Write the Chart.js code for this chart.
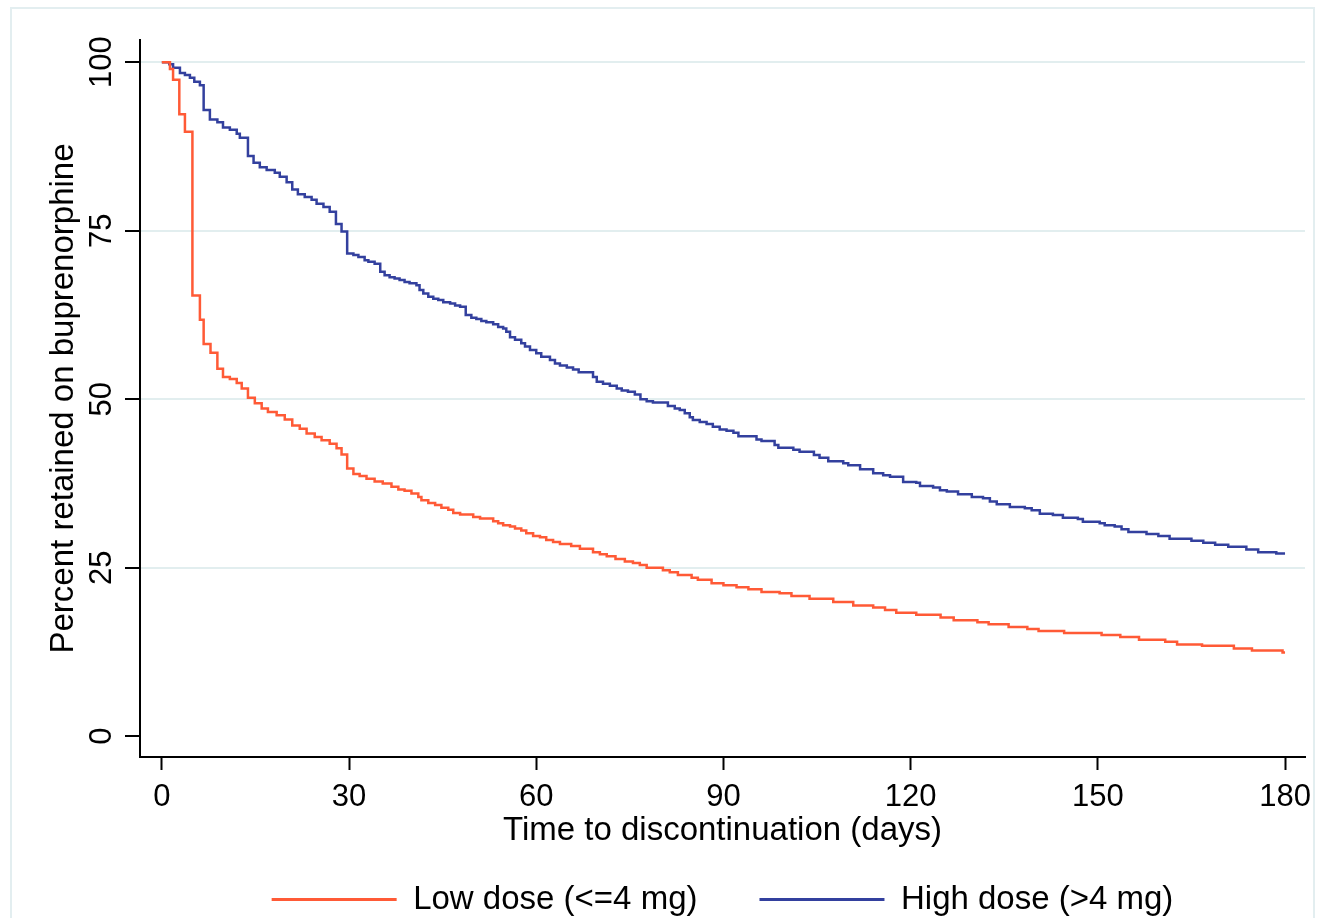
<!DOCTYPE html>
<html lang="en">
<head>
  <meta charset="UTF-8" />
  <title>Retention on buprenorphine by dose</title>
  <script src="https://cdn.jsdelivr.net/npm/chart.js"></script>
  <style>
    html, body { margin: 0; padding: 0; background: #fff; overflow: hidden; }
    #wrap { position: relative; width: 1317px; height: 918px; overflow: hidden; }
    #frame { position: absolute; left: 10px; top: 7px; width: 1301px; height: 1000px; border: 2px solid #e3eef0; }
    #km { position: absolute; left: 0; top: 0; }
  </style>
</head>
<body>
  <div id="wrap">
    <div id="frame"></div>
    <canvas id="km" width="1317" height="930"></canvas>
  </div>

  <script>
    // Kaplan-Meier steps (day of the drop, percent retained after it)
    const lowDays = [0, 1.3, 1.8, 2.8, 3.7, 4.9, 6.1, 6.7, 7.8, 8.9, 9.8, 10.9, 12.0, 12.8, 13.8, 14.9, 16.0, 17.0, 18.4, 19.7,
      20.9, 22.1, 23.2, 24.5, 25.6, 26.9, 28.0, 28.8, 29.7, 30.7, 31.7, 32.8, 34.1, 35.4, 36.8, 37.9, 38.9, 40.0, 41.1, 41.6,
      42.7, 43.8, 44.8, 45.9, 46.7, 47.8, 49.9, 51.0, 53.1, 53.9, 54.7, 55.8, 56.6, 57.6, 58.4, 59.5, 60.6, 61.6, 62.7, 63.8,
      65.6, 67.0, 69.1, 70.2, 71.3, 72.7, 74.2, 75.5, 76.6, 77.7, 80.3, 81.4, 82.7, 84.9, 85.9, 88.1, 90.0, 92.1, 94.0, 96.1,
      99.0, 100.9, 103.8, 107.6, 110.8, 114.0, 115.9, 117.7, 120.9, 124.8, 126.9, 130.7, 132.5, 135.7, 138.7, 140.5, 144.6, 150.6, 153.6, 156.6,
      160.8, 162.7, 166.7, 171.8, 174.7, 179.6, 180];
    const lowPct = [100, 99.0, 97.4, 92.3, 89.7, 65.4, 61.8, 58.2, 56.9, 54.5, 53.3, 53.0, 52.4, 51.6, 50.2, 49.4, 48.6, 48.1, 47.6, 47.0,
      46.1, 45.6, 44.9, 44.4, 43.9, 43.4, 42.7, 41.8, 39.7, 38.9, 38.6, 38.2, 37.8, 37.5, 37.0, 36.6, 36.4, 36.0, 35.5, 35.0,
      34.6, 34.3, 33.9, 33.6, 33.1, 32.9, 32.5, 32.3, 31.9, 31.6, 31.3, 31.1, 30.8, 30.5, 30.1, 29.7, 29.5, 29.1, 28.8, 28.5,
      28.2, 27.8, 27.3, 27.0, 26.7, 26.3, 25.9, 25.7, 25.4, 25.0, 24.6, 24.3, 23.9, 23.5, 23.2, 22.7, 22.4, 22.1, 21.8, 21.4,
      21.2, 20.8, 20.4, 19.9, 19.4, 19.1, 18.7, 18.3, 18.0, 17.6, 17.2, 16.9, 16.6, 16.2, 15.9, 15.6, 15.3, 15.0, 14.7, 14.3,
      14.0, 13.6, 13.4, 13.0, 12.7, 12.4, 12.4];

    const highDays = [0, 1.2, 1.8, 2.9, 3.7, 4.5, 5.2, 6.1, 6.7, 7.7, 8.9, 9.8, 10.9, 12.0, 12.5, 13.8, 14.7, 15.7, 16.8, 18.1,
      18.9, 20.0, 20.9, 21.8, 22.9, 24.0, 24.8, 25.9, 26.9, 27.9, 28.8, 29.7, 30.7, 31.5, 32.5, 33.1, 34.1, 35.0, 35.7, 36.5,
      37.3, 38.1, 38.9, 39.7, 40.8, 41.3, 41.9, 42.7, 43.5, 44.3, 45.1, 46.2, 47.0, 47.8, 48.7, 49.6, 50.4, 51.2, 52.0, 53.1,
      53.9, 54.7, 55.2, 55.8, 56.6, 57.6, 58.2, 59.0, 60.0, 60.8, 62.2, 63.0, 63.8, 64.9, 65.9, 66.8, 69.1, 69.7, 70.7, 71.8,
      72.9, 73.7, 74.7, 75.8, 76.7, 77.7, 78.7, 81.1, 82.2, 83.0, 83.8, 84.6, 85.1, 86.2, 87.3, 88.3, 89.4, 90.5, 91.6, 92.4,
      95.3, 96.1, 98.2, 98.8, 101.2, 102.2, 104.5, 105.4, 106.8, 109.2, 110.0, 111.9, 114.0, 115.6, 116.7, 118.8, 120.9, 121.5, 123.6, 124.7,
      125.8, 127.6, 129.8, 131.6, 132.7, 133.8, 135.9, 138.3, 139.4, 140.7, 142.8, 144.4, 146.8, 147.6, 150.3, 151.1, 152.7, 153.8, 154.9, 157.8,
      159.7, 161.5, 165.0, 166.9, 168.8, 170.9, 173.8, 175.7, 178.6, 180];
    const highPct = [100, 99.7, 99.2, 98.4, 98.1, 97.7, 97.1, 96.6, 92.9, 91.5, 91.1, 90.3, 90.0, 89.4, 88.8, 86.1, 85.1, 84.4, 84.0, 83.6,
      83.0, 82.2, 81.1, 80.4, 80.0, 79.6, 79.0, 78.5, 77.8, 76.0, 74.9, 71.6, 71.4, 71.1, 70.6, 70.4, 70.1, 68.9, 68.4, 68.1,
      67.9, 67.7, 67.4, 67.2, 66.9, 66.2, 65.7, 65.2, 64.9, 64.7, 64.4, 64.2, 63.9, 63.7, 62.5, 62.1, 61.9, 61.6, 61.4, 61.1,
      60.7, 60.5, 60.0, 59.2, 58.8, 58.3, 57.8, 57.3, 56.8, 56.3, 55.8, 55.3, 55.0, 54.7, 54.4, 54.0, 53.3, 52.6, 52.3, 52.0,
      51.6, 51.3, 51.1, 50.7, 50.0, 49.7, 49.5, 49.0, 48.6, 48.4, 47.9, 47.3, 46.9, 46.6, 46.3, 45.9, 45.5, 45.3, 45.0, 44.5,
      44.0, 43.8, 43.2, 42.8, 42.5, 42.2, 41.7, 41.3, 40.8, 40.5, 40.2, 39.6, 39.0, 38.7, 38.5, 37.7, 37.6, 37.1, 36.9, 36.5,
      36.3, 35.9, 35.5, 35.3, 34.8, 34.4, 34.0, 33.8, 33.5, 33.0, 32.8, 32.4, 32.2, 31.8, 31.6, 31.3, 31.1, 30.7, 30.3, 30.0,
      29.7, 29.3, 29.0, 28.7, 28.4, 28.1, 27.7, 27.3, 27.1, 27.1];

    const seriesLabels = ['Low dose (<=4 mg)', 'High dose (>4 mg)'];
    const xTicks = [0, 30, 60, 90, 120, 150, 180];
    const yTicks = [0, 25, 50, 75, 100];
    const xTitle = 'Time to discontinuation (days)';
    const yTitle = 'Percent retained on buprenorphine';

    const FONT = "'Liberation Sans', Arial, Helvetica, sans-serif";
    const lowColor = '#ff5a36';
    const highColor = '#33409e';

    function toPoints(days, pct) {
      return days.map((d, i) => ({ x: d, y: pct[i] }));
    }

    function steps(label, days, pct, color) {
      return {
        label: label,
        data: toPoints(days, pct),
        borderColor: color,
        backgroundColor: color,
        borderWidth: 2.5,
        stepped: true,
        pointRadius: 0,
        fill: false
      };
    }

    new Chart(document.getElementById('km'), {
      type: 'line',
      data: {
        datasets: [
          steps(seriesLabels[0], lowDays, lowPct, lowColor),
          steps(seriesLabels[1], highDays, highPct, highColor)
        ]
      },
      options: {
        responsive: false,
        animation: false,
        layout: { padding: { left: 0, right: 12, top: 40, bottom: 4 } },
        plugins: {
          tooltip: { enabled: false },
          legend: {
            position: 'bottom',
            fullSize: false,
            labels: {
              boxWidth: 125,
              boxHeight: 3,
              padding: 62,
              color: '#000',
              font: { family: FONT, size: 33 },
              generateLabels: chart => chart.data.datasets.map((ds, i) => ({
                text: ds.label,
                fillStyle: ds.borderColor,
                strokeStyle: ds.borderColor,
                lineWidth: 0,
                hidden: false,
                datasetIndex: i
              }))
            }
          }
        },
        scales: {
          x: {
            type: 'linear',
            min: -3.5,
            max: 183.2,
            afterBuildTicks: s => { s.ticks = xTicks.map(v => ({ value: v })); },
            afterFit: s => { s.height = 64; s.paddingLeft = 0; s.paddingRight = 0; },
            border: { color: '#000', width: 2 },
            grid: { drawOnChartArea: false, tickLength: 13, tickColor: '#000', tickWidth: 2 },
            ticks: { color: '#000', padding: 9, maxRotation: 0, font: { family: FONT, size: 31 } },
            title: {
              display: true,
              text: xTitle,
              color: '#000',
              font: { family: FONT, size: 33 },
              padding: { top: 0, bottom: -29.5 }
            }
          },
          y: {
            type: 'linear',
            min: -3.1,
            max: 103.3,
            afterBuildTicks: s => { s.ticks = yTicks.map(v => ({ value: v })); },
            afterFit: s => { s.width = 140; },
            border: { color: '#000', width: 2 },
            grid: {
              color: c => (c.tick && c.tick.value === 0) ? 'rgba(0,0,0,0)' : '#e2eeef',
              lineWidth: 2,
              tickLength: 15,
              tickColor: '#000',
              tickWidth: 2
            },
            ticks: {
              color: '#000',
              padding: -3,
              minRotation: 90,
              maxRotation: 90,
              crossAlign: 'center',
              font: { family: FONT, size: 31 }
            },
            title: {
              display: true,
              text: yTitle,
              color: '#000',
              font: { family: FONT, size: 33 },
              padding: { top: 44, bottom: 0 }
            }
          }
        }
      }
    });
  </script>
</body>
</html>
